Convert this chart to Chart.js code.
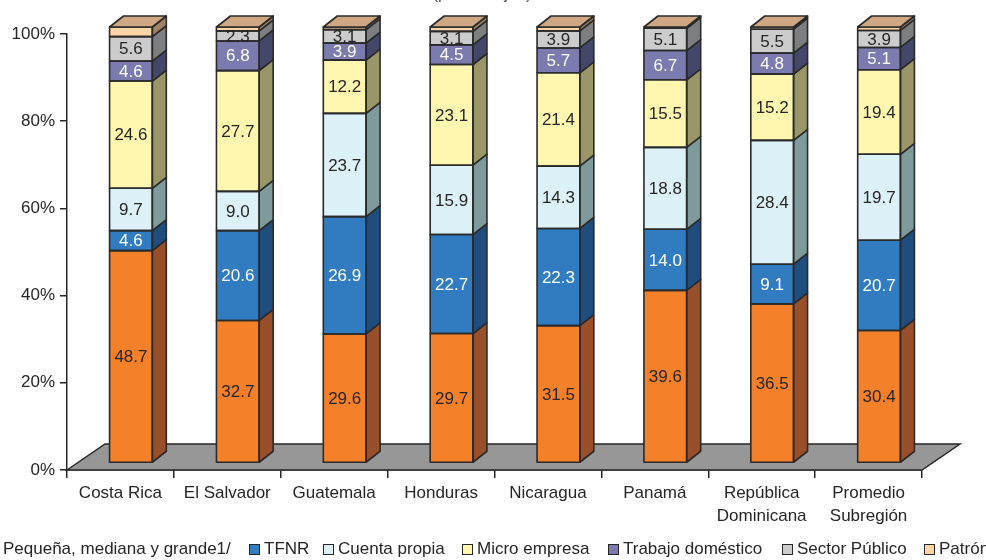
<!DOCTYPE html>
<html>
<head>
<meta charset="utf-8">
<script src="https://cdn.jsdelivr.net/npm/chart.js@4"></script>
<style>
  html, body { margin: 0; padding: 0; background: #fff; overflow: hidden; }
  canvas { display: block; }
</style>
</head>
<body>
<canvas id="chart" width="986" height="560"></canvas>
<script>
const categories = [
  'Costa Rica', 'El Salvador', 'Guatemala', 'Honduras', 'Nicaragua', 'Panamá',
  ['República', 'Dominicana'], ['Promedio', 'Subregión']
]
const seriesNames = [
  'Pequeña, mediana y grande1/', 'TFNR', 'Cuenta propia', 'Micro empresa',
  'Trabajo doméstico', 'Sector Público', 'Patrón'
]
const pequenaMedianaGrande = [48.7, 32.7, 29.6, 29.7, 31.5, 39.6, 36.5, 30.4]
const tfnr = [4.6, 20.6, 26.9, 22.7, 22.3, 14.0, 9.1, 20.7]
const cuentaPropia = [9.7, 9.0, 23.7, 15.9, 14.3, 18.8, 28.4, 19.7]
const microEmpresa = [24.6, 27.7, 12.2, 23.1, 21.4, 15.5, 15.2, 19.4]
const trabajoDomestico = [4.6, 6.8, 3.9, 4.5, 5.7, 6.7, 4.8, 5.1]
const sectorPublico = [5.6, 2.3, 3.1, 3.1, 3.9, 5.1, 5.5, 3.9]
const patron = [2.2, 0.9, 0.6, 1.0, 0.9, 0.3, 0.5, 0.8]
const yTicks = [0, 20, 40, 60, 80, 100]

const seriesValues = [pequenaMedianaGrande, tfnr, cuentaPropia, microEmpresa, trabajoDomestico, sectorPublico, patron]
const frontColors = ['#F48029', '#317CC0', '#DDF1F9', '#FFF6AF', '#7B7BB0', '#CCCCCC', '#FFD5A8']
const sideColors = ['#9A4F2B', '#1F4D7E', '#7F9A9B', '#9A9667', '#45476A', '#7D7E7F', '#A38466']
const labelColors = ['#262626', '#ffffff', '#262626', '#262626', '#ffffff', '#262626', null]
const topColor = '#CFA883'
// left edge of each legend swatch
const legendX = [-12, 249, 323, 462, 608, 782, 924]

const FONT = '"Liberation Sans", Arial, sans-serif'
const INK = '#262626'
// depth of the bars and of the floor
const DX = 14, DY = 11
const SHIFT_X = 10.5, SHIFT_Y = 7
const FLOOR_DX = 38, FLOOR_DY = 26

const box3d = {
  id: 'box3d',
  beforeDatasetsDraw(chart) {
    const { ctx, scales: { x, y } } = chart
    const y0 = y.getPixelForValue(0)
    ctx.save()
    ctx.beginPath()
    ctx.moveTo(x.left, y0)
    ctx.lineTo(x.left + FLOOR_DX, y0 - FLOOR_DY)
    ctx.lineTo(x.right + FLOOR_DX, y0 - FLOOR_DY)
    ctx.lineTo(x.right, y0)
    ctx.closePath()
    ctx.fillStyle = '#979797'
    ctx.fill()
    ctx.lineWidth = 1.5
    ctx.strokeStyle = INK
    ctx.stroke()
    ctx.restore()
    // the bars sit part way into the floor
    ctx.save()
    ctx.translate(SHIFT_X, -SHIFT_Y)
  },
  afterDatasetsDraw(chart) {
    const { ctx } = chart
    const metas = chart.data.datasets.map((d, i) => chart.getDatasetMeta(i))
    ctx.lineWidth = 1.6
    ctx.strokeStyle = '#2a2a2a'
    ctx.lineJoin = 'round'
    categories.forEach((c, j) => {
      metas.forEach((meta, i) => {
        const bar = meta.data[j]
        const l = bar.x - bar.width / 2, r = bar.x + bar.width / 2
        const t = bar.y, b = bar.base
        ctx.beginPath()
        ctx.moveTo(r, t)
        ctx.lineTo(r + DX, t - DY)
        ctx.lineTo(r + DX, b - DY)
        ctx.lineTo(r, b)
        ctx.closePath()
        ctx.fillStyle = sideColors[i]
        ctx.fill()
        ctx.stroke()
        ctx.strokeRect(l, t, r - l, b - t)
        if (i === metas.length - 1) {
          ctx.beginPath()
          ctx.moveTo(l, t)
          ctx.lineTo(l + DX, t - DY)
          ctx.lineTo(r + DX, t - DY)
          ctx.lineTo(r, t)
          ctx.closePath()
          ctx.fillStyle = topColor
          ctx.fill()
          ctx.stroke()
        }
      })
    })
    // value labels in the middle of each segment
    ctx.font = '17px ' + FONT
    ctx.textAlign = 'center'
    ctx.textBaseline = 'middle'
    metas.forEach((meta, i) => {
      if (!labelColors[i]) return
      ctx.fillStyle = labelColors[i]
      meta.data.forEach((bar, j) => {
        ctx.fillText(seriesValues[i][j].toFixed(1), bar.x, (bar.y + bar.base) / 2 + 1)
      })
    })
    ctx.restore()
  },
  afterDraw(chart) {
    const { ctx } = chart
    ctx.save()
    // title line, mostly above the visible area
    ctx.font = '17px ' + FONT
    ctx.fillStyle = '#555'
    ctx.textAlign = 'center'
    ctx.textBaseline = 'alphabetic'
    ctx.fillText('(porcentajes)', 482, -1)

    // legend row along the bottom
    ctx.textAlign = 'left'
    ctx.textBaseline = 'middle'
    const py = 549
    seriesNames.forEach((name, i) => {
      const px = legendX[i]
      ctx.fillStyle = frontColors[i]
      ctx.fillRect(px, py - 5, 10, 10)
      ctx.lineWidth = 1
      ctx.strokeStyle = INK
      ctx.strokeRect(px + 0.5, py - 4.5, 10, 10)
      ctx.fillStyle = INK
      ctx.fillText(name, px + 15, py)
    })
    ctx.restore()
  }
}

new Chart(document.getElementById('chart'), {
  type: 'bar',
  data: {
    labels: categories,
    datasets: seriesNames.map((name, i) => ({
      label: name,
      data: seriesValues[i],
      backgroundColor: frontColors[i],
      borderWidth: 0,
      barPercentage: 0.4,
      categoryPercentage: 1
    }))
  },
  options: {
    responsive: false,
    animation: false,
    devicePixelRatio: 1,
    layout: { padding: { left: 0, top: 34, right: 64, bottom: 0 } },
    plugins: { legend: { display: false }, tooltip: { enabled: false } },
    scales: {
      x: {
        stacked: true,
        grid: { offset: true, drawOnChartArea: false, tickLength: 8, color: INK, lineWidth: 1.5 },
        border: { color: INK, width: 1.5 },
        ticks: { color: INK, font: { family: FONT, size: 17, lineHeight: 1.4 }, padding: 3, maxRotation: 0, autoSkip: false },
        afterFit: s => { s.height = 90 }
      },
      y: {
        stacked: true,
        min: 0,
        max: 100,
        afterBuildTicks: s => { s.ticks = yTicks.map(v => ({ value: v })) },
        grid: { drawOnChartArea: false, tickLength: 7, color: INK, lineWidth: 1.5 },
        border: { color: INK, width: 1.5 },
        ticks: { color: INK, font: { family: FONT, size: 17 }, padding: 5, callback: v => v + '%' },
        afterFit: s => { s.width = 67 }
      }
    }
  },
  plugins: [box3d]
})
</script>
</body>
</html>
